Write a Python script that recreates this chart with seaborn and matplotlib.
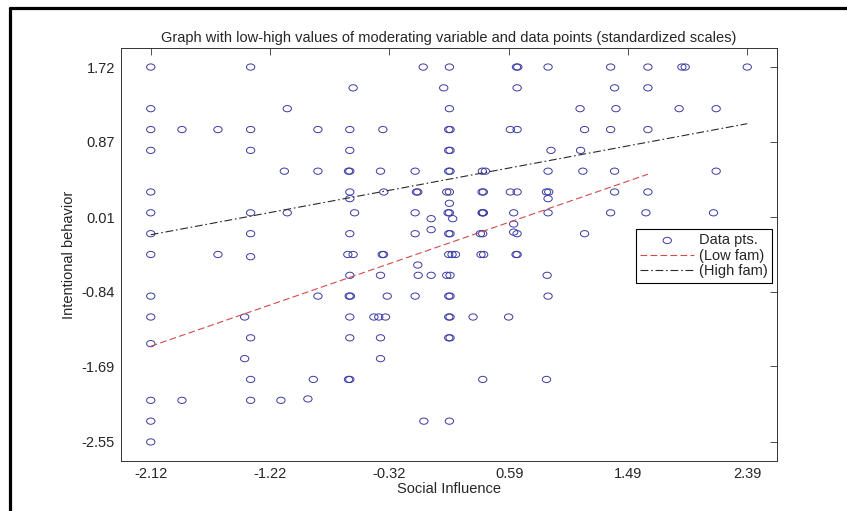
import matplotlib
matplotlib.use("Agg")
import matplotlib.pyplot as plt
import matplotlib.transforms as mtransforms
from matplotlib.lines import Line2D
from matplotlib.path import Path
import seaborn as sns

# data points (standardized scales)
x_pts = [
    -2.12, -1.365, -0.060, 0.138, 0.645, 0.655, 0.884, 1.357, 1.639, 1.896, 1.921, 2.39,
    -0.590, 0.095, 0.650, 1.387, 1.639,
    -2.12, -1.088, 0.138, 1.126, 1.397, 1.875, 2.155,
    -2.12, -1.884, -1.612, -1.365, -0.856, -0.615, -0.365, 0.133, 0.143, 0.599, 0.650, 1.160, 1.357, 1.639,
    -2.12, -1.365, -0.615, 0.133, 0.143, 0.906, 1.130,
    -1.110, -0.856, -0.625, -0.615, -0.383, -0.121, 0.133, 0.143, 0.387, 0.410, 0.884, 1.147, 1.387, 2.155,
    -2.12, -0.615, -0.358, -0.111, -0.101, 0.118, 0.138, 0.385, 0.395, 0.599, 0.650, 0.872, 0.889, 1.387, 1.639,
    -0.615, 0.884,
    0.138,
    -2.12, -1.365, -1.088, -0.579, -0.121, 0.128, 0.138, 0.385, 0.390, 0.395, 0.624, 0.884, 1.357, 1.624, 2.135,
    0.000, 0.163,
    0.624,
    0.000,
    -2.12, -1.365, -0.615, -0.121, 0.133, 0.143, 0.372, 0.390, 0.650, 1.160,
    0.624,
    -2.12, -1.612, -0.630, -0.590, -0.370, -0.360, 0.133, 0.158, 0.184, 0.377, 0.397, 0.642, 0.650,
    -1.365,
    -0.101,
    -0.615, -0.383, -0.098, 0.000, 0.118, 0.143, 0.877,
    -2.12, -0.856, -0.620, -0.610, -0.332, -0.121, 0.133, 0.143, 0.884,
    -2.12, -1.410, -0.615, -0.433, -0.396, -0.345, 0.133, 0.143, 0.317, 0.586,
    -2.12,
    -1.365, -0.615, -0.383, 0.133, 0.143,
    -1.410, -0.383,
    -1.365, -0.891, -0.625, -0.615, 0.390, 0.872,
    -2.12, -1.884, -1.365, -1.136,
    -0.932,
    -2.12, -0.055, 0.138,
    -2.12,
]
y_pts = [
    1.72, 1.72, 1.72, 1.72, 1.72, 1.72, 1.72, 1.72, 1.72, 1.72, 1.72, 1.72,
    1.483, 1.483, 1.483, 1.483, 1.483,
    1.246, 1.246, 1.246, 1.246, 1.246, 1.246, 1.246,
    1.008, 1.008, 1.008, 1.008, 1.008, 1.008, 1.008, 1.008, 1.008, 1.008, 1.008, 1.008, 1.008, 1.008,
    0.771, 0.771, 0.771, 0.771, 0.771, 0.771, 0.771,
    0.534, 0.534, 0.534, 0.534, 0.534, 0.534, 0.534, 0.534, 0.534, 0.534, 0.534, 0.534, 0.534, 0.534,
    0.297, 0.297, 0.297, 0.297, 0.297, 0.297, 0.297, 0.297, 0.297, 0.297, 0.297, 0.297, 0.297, 0.297, 0.297,
    0.221, 0.221,
    0.168,
    0.060, 0.060, 0.060, 0.060, 0.060, 0.060, 0.060, 0.060, 0.060, 0.060, 0.060, 0.060, 0.060, 0.060, 0.060,
    -0.007, -0.007,
    -0.068,
    -0.132,
    -0.178, -0.178, -0.178, -0.178, -0.178, -0.178, -0.178, -0.178, -0.178, -0.178,
    -0.160,
    -0.415, -0.415, -0.415, -0.415, -0.415, -0.415, -0.415, -0.415, -0.415, -0.415, -0.415, -0.415, -0.415,
    -0.440,
    -0.535,
    -0.652, -0.652, -0.652, -0.652, -0.652, -0.652, -0.652,
    -0.889, -0.889, -0.889, -0.889, -0.889, -0.889, -0.889, -0.889, -0.889,
    -1.127, -1.127, -1.127, -1.127, -1.127, -1.127, -1.127, -1.127, -1.127, -1.127,
    -1.430,
    -1.364, -1.364, -1.364, -1.364, -1.364,
    -1.601, -1.601,
    -1.838, -1.838, -1.838, -1.838, -1.838, -1.838,
    -2.076, -2.076, -2.076, -2.076,
    -2.060,
    -2.313, -2.313, -2.313,
    -2.55,
]

# regression lines for low / high values of the moderator
low_x = [-2.12, 1.64]
low_y = [-1.46, 0.50]
high_x = [-2.12, 2.39]
high_y = [-0.19, 1.075]

x_ticks = [-2.12, -1.22, -0.32, 0.59, 1.49, 2.39]
y_ticks = [-2.55, -1.69, -0.84, 0.01, 0.87, 1.72]

PT_COLOR = "#3a3aa4"
LOW_COLOR = "#d04a4a"
HIGH_COLOR = "#2a2a2a"

sns.set_style("white")
plt.rcParams["font.family"] = ["Liberation Sans", "DejaVu Sans"]

fig = plt.figure(figsize=(8.47, 5.11), dpi=100)
ax = fig.add_axes([121 / 847, 1 - 460.7 / 511, 656 / 847, 412.4 / 511])

# circles look slightly wide in the original screenshot
ell = Path.unit_circle().transformed(mtransforms.Affine2D().scale(1.0, 0.75))

sns.scatterplot(x=x_pts, y=y_pts, ax=ax, marker=ell, s=36, facecolor="none",
                edgecolor=PT_COLOR, linewidth=0.7, label="Data pts.")
sns.lineplot(x=low_x, y=low_y, ax=ax, color=LOW_COLOR, linewidth=0.8,
             linestyle=(0, (6, 3)), label="(Low fam)")
sns.lineplot(x=high_x, y=high_y, ax=ax, color=HIGH_COLOR, linewidth=0.8,
             linestyle=(0, (7, 2.5, 1.5, 2.5)), label="(High fam)")

ax.set_xlim(-2.345, 2.615)
ax.set_ylim(-2.7635, 1.9335)
ax.set_xticks(x_ticks)
ax.set_xticklabels([f"{v:.2f}" for v in x_ticks])
ax.set_yticks(y_ticks)
ax.set_yticklabels([f"{v:.2f}" for v in y_ticks])
ax.tick_params(direction="in", length=5, width=0.6, top=True, right=True,
               labelsize=10.5, pad=4.5, color="#333333")
for sp in ax.spines.values():
    sp.set_visible(True)
    sp.set_color("#333333")
    sp.set_linewidth(0.7)

ax.set_title("Graph with low-high values of moderating variable and data points (standardized scales)",
             fontsize=10.5, pad=4.5)
ax.set_xlabel("Social Influence", fontsize=10.5, labelpad=0.5)
ax.set_ylabel("Intentional behavior", fontsize=10.5, labelpad=4)

handles, labels = ax.get_legend_handles_labels()
leg = ax.legend(handles, labels, loc="upper right", bbox_to_anchor=(0.992, 0.562),
                frameon=True, fancybox=False, edgecolor="black", framealpha=1,
                fontsize=10.5, handlelength=3.7, handletextpad=0.3, borderpad=0.3,
                labelspacing=0.1, borderaxespad=0)
leg.get_frame().set_linewidth(0.8)

# black frame of the original screenshot (left and top edges)
fig.add_artist(Line2D([10 / 847, 10 / 847], [0, 1 - 8.5 / 511],
                      transform=fig.transFigure, color="black", linewidth=2.3))
fig.add_artist(Line2D([10 / 847, 1], [1 - 8.5 / 511, 1 - 8.5 / 511],
                      transform=fig.transFigure, color="black", linewidth=2.3))

fig.savefig("out.png", dpi=100)
